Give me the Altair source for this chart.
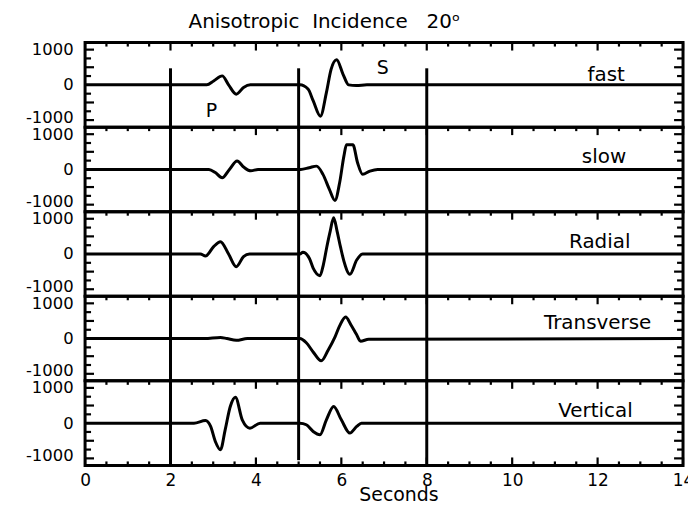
import altair as alt
import pandas as pd

FONT = "DejaVu Sans"

# ---------------- data ----------------
PANELS = ["fast", "slow", "Radial", "Transverse", "Vertical"]
LABEL_T = [12.2, 12.15, 12.05, 12.0, 11.95]
LABEL_V = [110, 190, 170, 280, 180]

fast_t = [0, 2.85, 3.01, 3.21, 3.36, 3.54, 3.71, 3.87, 5.03, 5.22, 5.34, 5.51, 5.65, 5.76, 5.89, 6.04, 6.17, 6.35, 6.6, 14]
fast_v = [0, 0, 110, 255, 0, -264, -75, 0, 0, -120, -450, -890, -220, 440, 710, 300, 0, -20, 0, 0]

slow_t = [0, 2.9, 3.05, 3.21, 3.38, 3.56, 3.72, 3.88, 4.05, 5.05, 5.25, 5.42, 5.57, 5.72, 5.85, 5.96, 6.06, 6.12, 6.27, 6.38, 6.5, 6.67, 6.85, 14]
slow_v = [0, 0, -90, -236, 0, 236, 60, -40, 0, 0, 50, 94, -140, -566, -880, -378, 378, 700, 700, 190, -140, -47, 0, 0]

radial_t = [0, 2.7, 2.82, 3.01, 3.17, 3.36, 3.54, 3.71, 3.85, 5.03, 5.10, 5.25, 5.34, 5.50, 5.58, 5.66, 5.74, 5.82, 5.90, 5.98, 6.06, 6.20, 6.36, 6.5, 14]
radial_v = [0, 0, -57, 208, 350, 0, -359, -75, 0, 0, 47, -120, -400, -614, -300, 200, 650, 1029, 650, 200, -200, -576, -170, 0, 0]

trans_t = [0, 2.8, 3.17, 3.32, 3.54, 3.8, 5.03, 5.18, 5.34, 5.53, 5.69, 5.85, 5.96, 6.10, 6.23, 6.35, 6.45, 6.64, 14]
trans_v = [0, 0, 30, 0, -50, 0, 0, -120, -380, -632, -330, 40, 360, 614, 380, 130, -75, -20, 0]

vert_t = [0, 2.55, 2.82, 2.94, 3.05, 3.17, 3.28, 3.40, 3.52, 3.68, 3.86, 4.10, 5.03, 5.18, 5.34, 5.50, 5.65, 5.82, 6.00, 6.20, 6.36, 6.47, 14]
vert_v = [0, 0, 75, -94, -520, -755, -190, 472, 736, 94, -142, 0, 0, -47, -236, -330, 94, 472, 94, -283, -94, 0, 0]

SERIES_T = [fast_t, slow_t, radial_t, trans_t, vert_t]
SERIES_V = [fast_v, slow_v, radial_v, trans_v, vert_v]

# vertical marker lines (seconds) and their vertical extent in each panel
MARK_T = [2, 5, 8]
MARK_TOP = [[470, 470, 470], [1200, 1200, 1200], [1200, 1200, 1200], [1200, 1200, 1200], [1200, 1200, 1200]]
MARK_BOT = [[-1200, -1200, -1200]] * 4 + [[-1200, -1050, -1200]]

# phase annotations in the first panel
PHASE_TXT = ["P", "S"]
PHASE_T = [2.96, 6.97]
PHASE_V = [-740, 480]

# tick values
X_LABELS = [0, 2, 4, 6, 8, 10, 12, 14]
X_MINOR = [0.5, 1, 1.5, 2.5, 3, 3.5, 4.5, 5, 5.5, 6.5, 7, 7.5, 8.5, 9, 9.5, 10.5, 11, 11.5, 12.5, 13, 13.5]
Y_LABELS = [-1000, 0, 1000]
Y_MAJOR = [-1000, -500, 500, 1000]
Y_MINOR = [-750, -250, 250, 750]

TITLE = "Anisotropic\u00a0\u00a0Incidence\u00a0\u00a0\u00a020\u1d52"

W, H = 601, 85
XS = alt.Scale(domain=[0, 14], nice=False, zero=False)
YS = alt.Scale(domain=[-1200, 1200], nice=False, zero=False)
LW = 3


def panel(i):
    last = i == len(PANELS) - 1
    if last:
        xaxis = alt.Axis(values=X_LABELS, ticks=False, domain=False, grid=False,
                         labelFont=FONT, labelFontSize=17, labelColor="black",
                         labelPadding=7, labelFlush=False, labelOverlap=False,
                         title="Seconds", titleFont=FONT, titleFontSize=19,
                         titleFontWeight="normal", titleColor="black",
                         titlePadding=-3, titleX=315, titleAlign="center")
    else:
        xaxis = None
    yaxis = alt.Axis(values=Y_LABELS, ticks=False, domain=False, grid=False,
                     labelFont=FONT, labelFontSize=16.5, labelColor="black",
                     labelExpr="datum.value + ''",
                     labelOffset={"condition": {"test": "datum.value < 0", "value": -3}, "value": 0},
                     labelPadding=12, title=None)

    def X(field="t"):
        return alt.X(f"{field}:Q", scale=XS, axis=xaxis, title="Seconds" if last else None)

    def Y(field="v"):
        return alt.Y(f"{field}:Q", scale=YS, axis=yaxis, title=None)

    trace = alt.Chart(pd.DataFrame({"t": SERIES_T[i], "v": SERIES_V[i]})).mark_line(
        color="black", strokeWidth=LW, interpolate="monotone"
    ).encode(x=X(), y=Y())

    marks = alt.Chart(pd.DataFrame({"t": MARK_T, "v": MARK_TOP[i], "v2": MARK_BOT[i]})).mark_rule(
        color="black", strokeWidth=LW
    ).encode(x=X(), y=Y(), y2="v2:Q")

    label = alt.Chart(pd.DataFrame({"t": [LABEL_T[i]], "v": [LABEL_V[i]], "txt": [PANELS[i]]})).mark_text(
        font=FONT, fontSize=20, color="black", align="center", baseline="alphabetic"
    ).encode(x=X(), y=Y(), text="txt:N")

    layers = [trace, marks, label]

    # inward ticks
    top_minor = alt.Chart(pd.DataFrame({"t": X_MINOR})).mark_rule(color="black", strokeWidth=2.2).encode(
        x=X(), y=alt.value(0), y2=alt.value(4))
    top_major = alt.Chart(pd.DataFrame({"t": X_LABELS})).mark_rule(color="black", strokeWidth=2.2).encode(
        x=X(), y=alt.value(0), y2=alt.value(8))
    layers += [top_minor, top_major]
    if last:
        bot_minor = alt.Chart(pd.DataFrame({"t": X_MINOR})).mark_rule(color="black", strokeWidth=2.2).encode(
            x=X(), y=alt.value(H), y2=alt.value(H - 4))
        bot_major = alt.Chart(pd.DataFrame({"t": X_LABELS})).mark_rule(color="black", strokeWidth=2.2).encode(
            x=X(), y=alt.value(H), y2=alt.value(H - 8))
        layers += [bot_minor, bot_major]
    for side, sign in ((0, 1), (W, -1)):
        ymin = alt.Chart(pd.DataFrame({"v": Y_MINOR})).mark_rule(color="black", strokeWidth=2.2).encode(
            y=Y(), x=alt.value(side), x2=alt.value(side + sign * 6))
        ymaj = alt.Chart(pd.DataFrame({"v": Y_MAJOR})).mark_rule(color="black", strokeWidth=2.2).encode(
            y=Y(), x=alt.value(side), x2=alt.value(side + sign * 9))
        layers += [ymin, ymaj]

    if i == 0:
        phases = alt.Chart(pd.DataFrame({"t": PHASE_T, "v": PHASE_V, "txt": PHASE_TXT})).mark_text(
            font=FONT, fontSize=19, color="black", align="center", baseline="middle"
        ).encode(x=X(), y=Y(), text="txt:N")
        layers.append(phases)

    return alt.layer(*layers).properties(width=W, height=H)


chart = alt.vconcat(*[panel(i) for i in range(len(PANELS))], spacing=0, bounds="flush").properties(
    title=alt.TitleParams(TITLE, anchor="start", frame="group", dx=104, offset=8,
                          font=FONT, fontSize=20, fontWeight="normal", color="black"),
    padding={"left": 23.5, "top": 10.5, "right": -8, "bottom": 1},
    background="white",
).configure_view(stroke="black", strokeWidth=LW)

chart.save("out.html", embed_options={"renderer": "svg", "actions": False})
